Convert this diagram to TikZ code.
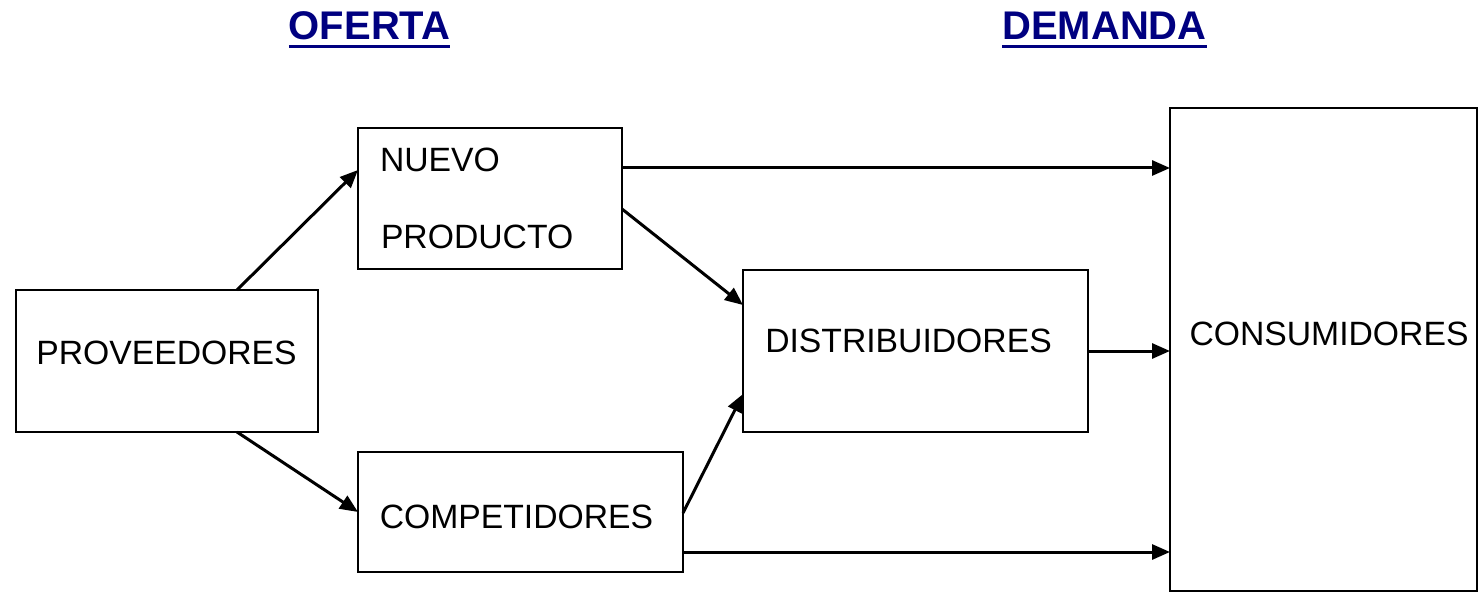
\documentclass[tikz,border=0pt]{standalone}
\usepackage{fontspec}
\setmainfont{Liberation Sans}
\usetikzlibrary{arrows.meta,calc}
\definecolor{navy}{HTML}{000080}
\begin{document}
\begin{tikzpicture}[x=1pt,y=-1pt,
  box/.style={draw=black,line width=2.5pt,inner sep=0pt,outer sep=0pt,rectangle},
  lbl/.style={inner sep=0pt,outer sep=0pt,font=\fontsize{33.7}{40}\selectfont},
  ttl/.style={inner sep=0pt,outer sep=0pt,text=navy,font=\fontsize{40}{48}\selectfont\bfseries},
  arr/.style={line width=3pt,-{Triangle[length=18pt,width=15pt]}}]
\useasboundingbox (0,0) rectangle (1479,593);
% boxes
\node[box,minimum width=302pt,minimum height=142pt] (prov) at (167,361) {};
\node[box,minimum width=264pt,minimum height=141pt] (nuevo) at (490,198.5) {};
\node[box,minimum width=325pt,minimum height=120pt] (comp) at (520.5,512) {};
\node[box,minimum width=345pt,minimum height=162pt] (dist) at (915.5,351) {};
\node[box,minimum width=307pt,minimum height=483pt] (cons) at (1323.5,349.5) {};
% texts
\node[lbl,anchor=base] (tprov) at (166.5,364) {PROVEEDORES};
\node[lbl,anchor=base west] (tnuevo) at (380,172) {NUEVO};
\node[lbl,anchor=base west] (tprod) at (381,249) {PRODUCTO};
\node[lbl,anchor=base] (tcomp) at (516.5,528) {COMPETIDORES};
\node[lbl,anchor=base] (tdist) at (908.5,352) {DISTRIBUIDORES};
\node[lbl,anchor=base] (tcons) at (1329,345) {CONSUMIDORES};
% titles
\node[ttl,anchor=base] (oferta) at (369.5,40) {OFERTA};
\node[ttl,anchor=base] (demanda) at (1104.5,40) {DEMANDA};
\draw[navy,line width=3pt] ($(oferta.base west)+(0,7)$) -- ($(oferta.base east)+(0,7)$);
\draw[navy,line width=3pt] ($(demanda.base west)+(0,7)$) -- ($(demanda.base east)+(0,7)$);
% connector points
\coordinate (p1) at ($(prov.north)+(70,0)$);
\coordinate (p2) at ($(prov.south)+(70,0)$);
\coordinate (n1) at ($(nuevo.east)+(0,-30.5)$);
\coordinate (n2) at ($(nuevo.east)+(0,10.5)$);
\coordinate (c1) at ($(comp.east)+(0,1)$);
\coordinate (c2) at ($(comp.east)+(0,40)$);
% connectors
\draw[arr] (p1) -- ($(nuevo.west)+(0,-28.5)$);
\draw[arr] (p2) -- (comp.west);
\draw[arr] (n1) -- (n1 -| cons.west);
\draw[arr] (n2) -- ($(dist.west)+(0,-46)$);
\draw[arr] (c1) -- ($(dist.west)+(0,43)$);
\draw[arr] (dist.east) -- (dist.east -| cons.west);
\draw[arr] (c2) -- (c2 -| cons.west);
\end{tikzpicture}
\end{document}
